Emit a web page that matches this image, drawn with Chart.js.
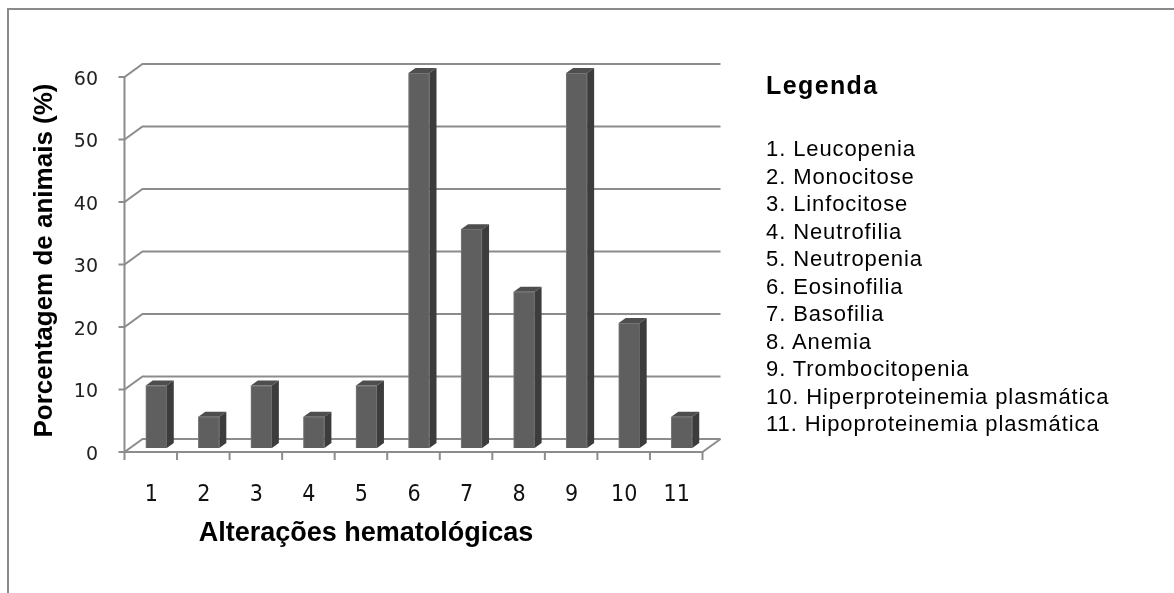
<!DOCTYPE html>
<html>
<head>
<meta charset="utf-8">
<title>Alterações hematológicas</title>
<script src="https://cdn.jsdelivr.net/npm/chart.js@4.4.1/dist/chart.umd.min.js"></script>
<style>
  body { margin: 0; background: #fff; }
  #wrap { position: relative; width: 1174px; height: 593px; overflow: hidden; }
  #frame {
    position: absolute; left: 7px; top: 8px; width: 1300px; height: 700px;
    border-left: 2px solid #8a8a8a; border-top: 2px solid #8a8a8a;
  }
  #grafico { position: absolute; left: 0; top: 0; }
  #tituloX {
    position: absolute; left: 366px; top: 516px; transform: translateX(-50%);
    white-space: nowrap; font: bold 27px/32px "Liberation Sans", Arial, sans-serif; color: #000;
  }
  #legenda {
    position: absolute; left: 766px; top: 70px;
    font-family: "Liberation Sans", Arial, sans-serif; color: #000;
  }
  #legenda h3 { margin: 0; font-size: 25px; line-height: 30px; letter-spacing: 1.4px; }
  #legenda ol {
    list-style: none; margin: 35px 0 0 0; padding: 0;
    font-size: 22px; line-height: 27.5px; letter-spacing: 0.9px;
  }
</style>
</head>
<body>
<div id="wrap">
  <div id="frame"></div>
  <canvas id="grafico" width="1174" height="593"></canvas>
  <div id="tituloX">Alterações hematológicas</div>
  <div id="legenda">
    <h3>Legenda</h3>
    <ol id="itens"></ol>
  </div>
</div>

<script>
// DADOS
const categorias = ['1', '2', '3', '4', '5', '6', '7', '8', '9', '10', '11'];
const porcentagens = [10, 5, 10, 5, 10, 60, 35, 25, 60, 20, 5];
const legendaItens = [
  'Leucopenia',
  'Monocitose',
  'Linfocitose',
  'Neutrofilia',
  'Neutropenia',
  'Eosinofilia',
  'Basofilia',
  'Anemia',
  'Trombocitopenia',
  'Hiperproteinemia plasmática',
  'Hipoproteinemia plasmática',
];
const eixoY = { min: 0, max: 60, passo: 10 };

// legenda em texto
const lista = document.getElementById('itens');
legendaItens.forEach(function (nome, i) {
  const li = document.createElement('li');
  li.textContent = categorias[i] + '. ' + nome;
  lista.appendChild(li);
});

// efeito 3D (estilo Excel): chartArea = plano das barras
const FRENTE_DX = -5.5, FRENTE_DY = 4;   // plano da frente (eixos)
const FUNDO_DX = 12.5, FUNDO_DY = -9;    // parede do fundo
const BARRA_DX = 7, BARRA_DY = -5;       // profundidade das barras
const corLinha = '#8c8c8c';

const efeito3d = {
  id: 'efeito3d',
  beforeDatasetsDraw(chart) {
    const { ctx, chartArea: a, scales: { y } } = chart;
    ctx.save();
    ctx.strokeStyle = corLinha;
    ctx.lineWidth = 2;
    y.ticks.forEach(function (t) {
      const py = y.getPixelForValue(t.value);
      ctx.beginPath();
      ctx.moveTo(a.left + FRENTE_DX - 6, py + FRENTE_DY);
      ctx.lineTo(a.left + FRENTE_DX, py + FRENTE_DY);
      ctx.lineTo(a.left + FUNDO_DX, py + FUNDO_DY);
      ctx.lineTo(a.right + FUNDO_DX, py + FUNDO_DY);
      ctx.stroke();
    });
    const topo = y.getPixelForValue(eixoY.max) + FRENTE_DY;
    const base = y.getPixelForValue(eixoY.min) + FRENTE_DY;
    const esq = a.left + FRENTE_DX, dir = a.right + FRENTE_DX;
    ctx.beginPath();
    ctx.moveTo(esq, topo);
    ctx.lineTo(esq, base);
    ctx.lineTo(dir, base);
    ctx.lineTo(a.right + FUNDO_DX, y.getPixelForValue(eixoY.min) + FUNDO_DY);
    ctx.stroke();
    // marcas do eixo x nos limites das categorias
    const n = categorias.length;
    for (let i = 0; i <= n; i++) {
      const px = esq + i * (dir - esq) / n;
      ctx.beginPath();
      ctx.moveTo(px, base);
      ctx.lineTo(px, base + 8);
      ctx.stroke();
    }
    ctx.restore();
  },
  afterDatasetsDraw(chart) {
    const ctx = chart.ctx;
    ctx.save();
    chart.getDatasetMeta(0).data.forEach(function (barra) {
      const p = barra.getProps(['x', 'y', 'base', 'width'], true);
      const l = p.x - p.width / 2, r = p.x + p.width / 2;
      // topo
      ctx.fillStyle = '#4e4e4e';
      ctx.beginPath();
      ctx.moveTo(l, p.y);
      ctx.lineTo(l + BARRA_DX, p.y + BARRA_DY);
      ctx.lineTo(r + BARRA_DX, p.y + BARRA_DY);
      ctx.lineTo(r, p.y);
      ctx.closePath();
      ctx.fill();
      // lateral
      ctx.fillStyle = '#3c3c3c';
      ctx.beginPath();
      ctx.moveTo(r, p.y);
      ctx.lineTo(r + BARRA_DX, p.y + BARRA_DY);
      ctx.lineTo(r + BARRA_DX, p.base + BARRA_DY);
      ctx.lineTo(r, p.base);
      ctx.closePath();
      ctx.fill();
    });
    ctx.restore();
  }
};

const data = {
  labels: categorias,
  datasets: [{
    data: porcentagens,
    backgroundColor: '#5f5f5f',
    borderColor: '#7c7c7c',
    borderWidth: 1,
    barThickness: 21,
  }]
};

const config = {
  type: 'bar',
  data: data,
  options: {
    responsive: false,
    animation: false,
    layout: {
      padding: { top: 73, right: 466, bottom: 0, left: 0 }
    },
    plugins: {
      legend: { display: false },
      tooltip: { enabled: false },
    },
    scales: {
      x: {
        grid: { display: false, drawTicks: false },
        border: { display: false },
        ticks: {
          font: { family: '"Liberation Sans Narrow", "DejaVu Sans Condensed", sans-serif', size: 23 },
          color: '#111',
          padding: 33,
          labelOffset: -5,
        },
        afterFit: function (s) { s.height = 145; },
      },
      y: {
        min: eixoY.min,
        max: eixoY.max,
        grid: { display: false, drawTicks: false },
        border: { display: false },
        ticks: {
          stepSize: eixoY.passo,
          font: { family: '"DejaVu Sans", sans-serif', size: 19 },
          color: '#222',
          padding: 32,
          labelOffset: 7,
        },
        title: {
          display: true,
          text: 'Porcentagem de animais (%)',
          font: { family: '"Liberation Sans", Arial, sans-serif', size: 26, weight: 'bold' },
          color: '#000',
          padding: { top: 29, bottom: 0 },
        },
        afterFit: function (s) { s.width = 130; },
      }
    }
  },
  plugins: [efeito3d]
};

const grafico = new Chart(document.getElementById('grafico'), config);
</script>
</body>
</html>
